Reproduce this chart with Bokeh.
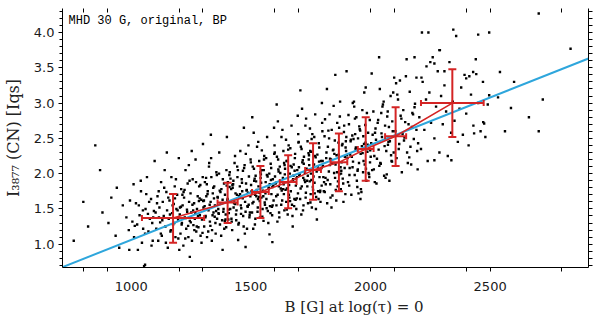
import numpy as np
from bokeh.plotting import figure
from bokeh.models import (ColumnDataSource, Range1d, LinearAxis, FixedTicker,
                          Whisker, TeeHead, Label, PrintfTickFormatter)
from bokeh.embed import file_html
from bokeh.resources import INLINE

# ---------------- data ----------------
title_text = "MHD 30 G, original, BP"
x_label = "B [G] at log(τ) = 0"
y_label = "I₃₈₇₇ (CN) [Iqs]"

x_ticks = [1000, 1500, 2000, 2500]
x_minor = [800, 900, 1200, 1300, 1600, 1700, 2000, 2100, 2400, 2500, 2800]
y_ticks = [1.0, 1.5, 2.0, 2.5, 3.0, 3.5, 4.0]

# binned means (red crosses)
bin_b = [1175, 1403, 1540, 1656, 1760, 1868, 1980, 2105, 2342]
bin_i = [1.37, 1.59, 1.74, 1.88, 2.05, 2.16, 2.35, 2.53, 3.00]
bin_b_err = [130, 42, 35, 35, 33, 35, 33, 44, 131]
bin_i_lo = [1.02, 1.30, 1.37, 1.51, 1.63, 1.75, 1.90, 2.11, 2.52]
bin_i_hi = [1.71, 1.87, 2.11, 2.26, 2.43, 2.57, 2.80, 2.94, 3.48]

# linear fit (blue)
fit_slope = 0.001345
fit_intercept = -0.284

# scatter points, grouped by field strength
b09 = [760, 820, 850, 880, 905, 917, 935, 950, 965, 980, 990, 870, 940, 995, 800]
i09 = [1.05, 1.25, 2.40, 1.45, 1.30, 1.66, 1.12, 0.95, 1.55, 1.38, 1.20, 2.05, 1.80, 1.62, 1.60]

b10 = [1005, 1012, 1020, 1028, 1035, 1041, 1050, 1054, 1060, 1066,
       1072, 1078, 1083, 1090, 1095, 1010, 1025, 1045, 1063, 1088,
       1098, 1032, 1058, 1070, 1085, 1015, 1040, 1075, 1092, 1049]
i10 = [1.32, 1.10, 1.58, 0.92, 1.41, 1.75, 1.22, 0.69, 1.50, 1.95,
       1.18, 1.36, 1.64, 1.05, 1.47, 1.85, 1.28, 1.02, 1.71, 1.30,
       2.18, 1.55, 1.15, 1.43, 0.98, 1.26, 1.90, 1.60, 1.38, 1.48]

b11 = [1102, 1105, 1110, 1113, 1118, 1121, 1125, 1128, 1132, 1136,
       1140, 1143, 1147, 1150, 1153, 1157, 1160, 1164, 1168, 1171,
       1175, 1178, 1182, 1185, 1189, 1192, 1196, 1199, 1108, 1116,
       1124, 1138, 1145, 1155, 1162, 1173, 1180, 1187, 1194, 1130,
       1149, 1166, 1183, 1115, 1197]
i11 = [1.45, 1.22, 1.68, 1.05, 1.52, 1.31, 1.88, 1.12, 1.60, 1.40,
       2.05, 1.25, 1.74, 1.48, 0.95, 1.36, 1.62, 1.18, 1.95, 1.44,
       1.28, 1.57, 1.82, 1.10, 1.50, 1.70, 1.35, 2.22, 1.58, 1.38,
       1.15, 1.80, 1.02, 1.66, 1.42, 1.55, 1.30, 1.92, 1.48, 1.34,
       2.30, 1.20, 1.65, 1.75, 1.08]

b12 = [1203, 1206, 1209, 1212, 1215, 1218, 1221, 1224, 1227, 1230,
       1233, 1236, 1239, 1242, 1245, 1248, 1251, 1254, 1257, 1260,
       1263, 1266, 1269, 1272, 1275, 1278, 1281, 1284, 1287, 1290,
       1293, 1296, 1299, 1204, 1211, 1219, 1226, 1234, 1241, 1249,
       1256, 1264, 1271, 1279, 1286, 1294, 1208, 1223, 1238, 1253,
       1268, 1283, 1298, 1214, 1229, 1244, 1259, 1274, 1289, 1201]
i12 = [1.42, 1.15, 1.78, 1.30, 1.55, 0.98, 1.66, 1.38, 2.05, 1.22,
       1.49, 1.86, 1.10, 1.60, 1.33, 1.72, 1.45, 1.05, 1.92, 1.27,
       1.58, 1.36, 2.20, 1.18, 1.50, 1.68, 1.24, 1.82, 1.41, 1.12,
       1.63, 1.35, 1.95, 1.52, 1.28, 1.74, 1.08, 1.46, 2.12, 1.31,
       1.56, 1.20, 1.88, 1.40, 1.65, 1.02, 1.53, 1.77, 1.26, 2.32,
       1.44, 1.61, 1.16, 1.70, 1.37, 1.90, 1.48, 1.25, 1.84, 0.92]

b13 = [1302, 1305, 1308, 1311, 1314, 1317, 1320, 1323, 1326, 1329,
       1332, 1335, 1338, 1341, 1344, 1347, 1350, 1353, 1356, 1359,
       1362, 1365, 1368, 1371, 1374, 1377, 1380, 1383, 1386, 1389,
       1392, 1395, 1398, 1304, 1310, 1316, 1322, 1328, 1334, 1340,
       1346, 1352, 1358, 1364, 1370, 1376, 1382, 1388, 1394, 1300,
       1307, 1319, 1331, 1343, 1355, 1367, 1379, 1391, 1313, 1337,
       1361, 1385, 1325, 1349, 1373, 1397, 1301, 1333, 1366, 1399]
i13 = [1.52, 1.25, 1.88, 1.40, 1.68, 1.10, 1.75, 1.48, 2.15, 1.32,
       1.60, 1.95, 1.20, 1.72, 1.45, 1.82, 1.55, 1.15, 2.02, 1.36,
       1.66, 1.44, 2.30, 1.28, 1.58, 1.78, 1.34, 1.92, 1.50, 1.22,
       1.70, 1.42, 2.05, 1.62, 1.38, 1.85, 1.18, 1.56, 2.22, 1.41,
       1.65, 1.30, 1.98, 1.50, 1.76, 1.12, 1.63, 1.86, 1.35, 2.42,
       1.54, 1.71, 1.26, 1.80, 1.47, 2.00, 1.58, 1.33, 1.94, 1.05,
       1.67, 1.46, 2.10, 1.39, 1.74, 1.24, 1.61, 2.55, 1.43, 1.83]

b14 = [1402, 1406, 1410, 1414, 1418, 1422, 1426, 1430, 1434, 1438,
       1442, 1446, 1450, 1454, 1458, 1462, 1466, 1470, 1474, 1478,
       1482, 1486, 1490, 1494, 1498, 1404, 1408, 1412, 1416, 1420,
       1424, 1428, 1432, 1436, 1440, 1444, 1448, 1452, 1456, 1460,
       1464, 1468, 1472, 1476, 1480, 1484, 1488, 1492, 1496, 1400,
       1403, 1411, 1419, 1427, 1435, 1443, 1451, 1459, 1467, 1475,
       1483, 1491, 1499, 1407, 1423, 1439, 1455, 1471, 1487, 1415,
       1447, 1479, 1431, 1463, 1495]
i14 = [1.62, 1.35, 1.98, 1.50, 1.78, 1.20, 1.85, 1.58, 2.25, 1.42,
       1.70, 2.05, 1.30, 1.82, 1.55, 1.92, 1.65, 1.25, 2.12, 1.46,
       1.76, 1.54, 2.40, 1.38, 1.68, 1.88, 1.44, 2.02, 1.60, 1.32,
       1.80, 1.52, 2.15, 1.72, 1.48, 1.95, 1.28, 1.66, 2.32, 1.51,
       1.75, 1.40, 2.08, 1.60, 1.86, 1.22, 1.73, 1.96, 1.45, 2.52,
       1.64, 1.81, 1.36, 1.90, 1.57, 2.10, 1.68, 1.43, 2.04, 1.15,
       1.77, 1.56, 2.20, 1.49, 1.84, 1.34, 1.71, 2.65, 1.53, 1.93,
       1.06, 2.28, 1.59, 1.87, 1.41]

b15 = [1502, 1505, 1508, 1511, 1514, 1517, 1520, 1523, 1526, 1529,
       1532, 1535, 1538, 1541, 1544, 1547, 1550, 1553, 1556, 1559,
       1562, 1565, 1568, 1571, 1574, 1577, 1580, 1583, 1586, 1589,
       1592, 1595, 1598, 1501, 1507, 1513, 1519, 1525, 1531, 1537,
       1543, 1549, 1555, 1561, 1567, 1573, 1579, 1585, 1591, 1597,
       1504, 1516, 1528, 1540, 1552, 1564, 1576, 1588, 1500, 1510,
       1522, 1534, 1546, 1558, 1570, 1582, 1594, 1506, 1530, 1554,
       1578, 1599, 1518, 1542, 1566, 1590, 1512, 1548, 1584, 1536]
i15 = [1.74, 1.45, 2.10, 1.60, 1.90, 1.28, 1.97, 1.68, 2.38, 1.52,
       1.82, 2.18, 1.38, 1.94, 1.66, 2.05, 1.76, 1.33, 2.25, 1.56,
       1.88, 1.64, 2.52, 1.47, 1.79, 2.00, 1.54, 2.14, 1.71, 1.41,
       1.92, 1.62, 2.28, 1.84, 1.58, 2.07, 1.36, 1.77, 2.45, 1.61,
       1.87, 1.50, 2.20, 1.72, 1.98, 1.30, 1.85, 2.08, 1.55, 2.65,
       1.75, 1.93, 1.46, 2.02, 1.68, 2.22, 1.80, 1.53, 2.16, 1.22,
       1.89, 1.67, 2.33, 1.59, 1.96, 1.44, 1.83, 2.80, 1.64, 2.05,
       1.14, 2.40, 1.70, 1.99, 1.51, 1.81, 2.58, 1.39, 1.91, 1.73]

b16 = [1603, 1607, 1609, 1612, 1616, 1619, 1621, 1625, 1628, 1631,
       1634, 1636, 1640, 1643, 1645, 1649, 1652, 1654, 1658, 1661,
       1663, 1667, 1670, 1672, 1676, 1679, 1682, 1685, 1688, 1690,
       1694, 1697, 1699, 1601, 1606, 1614, 1618, 1624, 1632, 1638,
       1642, 1648, 1656, 1660, 1666, 1674, 1678, 1684, 1692, 1696,
       1605, 1615, 1627, 1639, 1651, 1665, 1677, 1687, 1600, 1611,
       1623, 1635, 1647, 1659, 1671, 1681, 1693, 1608, 1629, 1653,
       1675, 1698, 1617, 1641, 1664, 1689, 1613, 1650, 1683, 1637]
i16 = [1.86, 1.55, 2.24, 1.70, 2.03, 1.38, 2.10, 1.79, 2.52, 1.62,
       1.94, 2.32, 1.48, 2.07, 1.77, 2.18, 1.88, 1.42, 2.40, 1.66,
       2.00, 1.75, 2.68, 1.56, 1.91, 2.13, 1.64, 2.28, 1.83, 1.50,
       2.05, 1.72, 2.44, 1.96, 1.68, 2.20, 1.45, 1.89, 2.62, 1.71,
       1.99, 1.60, 2.34, 1.84, 2.11, 1.40, 1.97, 2.22, 1.65, 2.82,
       1.87, 2.06, 1.56, 2.15, 1.79, 2.36, 1.92, 1.63, 2.30, 1.32,
       2.01, 1.78, 2.48, 1.70, 2.09, 1.54, 1.95, 2.98, 1.76, 2.18,
       1.25, 2.56, 1.82, 2.12, 1.61, 1.93, 2.74, 1.49, 2.04, 1.85]

b17 = [1702, 1706, 1709, 1713, 1715, 1718, 1722, 1724, 1728, 1730,
       1733, 1737, 1739, 1742, 1746, 1748, 1751, 1755, 1757, 1760,
       1764, 1766, 1769, 1773, 1775, 1778, 1781, 1784, 1787, 1791,
       1793, 1796, 1799, 1701, 1708, 1712, 1720, 1726, 1731, 1736,
       1744, 1750, 1754, 1762, 1768, 1772, 1780, 1786, 1790, 1797,
       1704, 1717, 1729, 1741, 1753, 1765, 1777, 1789, 1700, 1711,
       1721, 1735, 1747, 1759, 1771, 1783, 1795, 1707, 1727, 1752,
       1776, 1798, 1719, 1743, 1767, 1788, 1714, 1749, 1785, 1738]
i17 = [1.98, 1.64, 2.38, 1.82, 2.16, 1.48, 2.24, 1.91, 2.68, 1.73,
       2.07, 2.46, 1.58, 2.20, 1.89, 2.32, 2.00, 1.52, 2.56, 1.77,
       2.13, 1.87, 2.84, 1.67, 2.03, 2.27, 1.75, 2.43, 1.95, 1.60,
       2.18, 1.83, 2.60, 2.09, 1.79, 2.35, 1.55, 2.01, 2.78, 1.82,
       2.12, 1.71, 2.49, 1.96, 2.25, 1.50, 2.10, 2.37, 1.76, 3.00,
       1.99, 2.19, 1.66, 2.29, 1.91, 2.52, 2.05, 1.74, 2.45, 1.42,
       2.14, 1.90, 2.64, 1.81, 2.23, 1.64, 2.08, 3.18, 1.88, 2.31,
       1.35, 2.72, 1.94, 2.26, 1.72, 2.06, 2.92, 1.59, 2.17, 1.97]

b18 = [1801, 1805, 1808, 1812, 1816, 1819, 1822, 1826, 1829, 1832,
       1835, 1838, 1841, 1845, 1848, 1851, 1854, 1857, 1861, 1864,
       1867, 1870, 1873, 1876, 1879, 1883, 1886, 1889, 1892, 1895,
       1898, 1803, 1810, 1815, 1821, 1827, 1833, 1840, 1846, 1852,
       1858, 1863, 1869, 1875, 1881, 1887, 1893, 1899, 1806, 1818,
       1830, 1843, 1855, 1866, 1878, 1890, 1800, 1813, 1824, 1837,
       1849, 1860, 1872, 1884, 1896, 1809, 1831, 1853, 1877, 1897]
i18 = [2.11, 1.75, 2.53, 1.94, 2.30, 1.58, 2.38, 2.03, 2.84, 1.85,
       2.20, 2.62, 1.69, 2.34, 2.01, 2.47, 2.13, 1.62, 2.72, 1.89,
       2.27, 1.99, 3.02, 1.78, 2.16, 2.42, 1.86, 2.59, 2.08, 1.71,
       2.32, 1.95, 2.77, 2.22, 1.91, 2.50, 1.66, 2.14, 2.96, 1.94,
       2.26, 1.82, 2.65, 2.09, 2.40, 1.60, 2.24, 2.52, 1.88, 3.20,
       2.12, 2.33, 1.77, 2.44, 2.04, 2.68, 2.18, 1.85, 2.61, 1.52,
       2.28, 2.02, 2.81, 1.93, 2.37, 1.74, 2.21, 3.40, 2.00, 2.46]

b19 = [1902, 1906, 1910, 1913, 1917, 1920, 1924, 1927, 1931, 1934,
       1938, 1941, 1945, 1948, 1952, 1955, 1959, 1962, 1966, 1969,
       1973, 1976, 1980, 1983, 1987, 1990, 1994, 1997, 1904, 1911,
       1918, 1925, 1932, 1939, 1946, 1953, 1960, 1967, 1974, 1981,
       1988, 1995, 1908, 1922, 1936, 1950, 1964, 1978, 1992, 1900,
       1915, 1929, 1943, 1957, 1971, 1985, 1999, 1912, 1935, 1958,
       1979, 1998, 1926, 1947, 1970]
i19 = [2.26, 1.88, 2.70, 2.08, 2.46, 1.70, 2.54, 2.17, 3.02, 1.98,
       2.35, 2.80, 1.81, 2.50, 2.15, 2.63, 2.28, 1.74, 2.90, 2.02,
       2.42, 2.13, 3.22, 1.90, 2.31, 2.58, 1.99, 2.76, 2.22, 1.83,
       2.48, 2.09, 2.95, 2.37, 2.04, 2.67, 1.78, 2.29, 3.15, 2.07,
       2.41, 1.95, 2.83, 2.24, 2.56, 1.72, 2.39, 2.69, 2.01, 3.45,
       2.27, 2.49, 1.90, 2.61, 2.18, 2.86, 2.33, 1.98, 2.78, 1.64,
       2.44, 2.16, 3.00, 2.06, 2.53]

b20 = [2003, 2007, 2012, 2016, 2021, 2025, 2030, 2034, 2039, 2043,
       2048, 2052, 2057, 2061, 2066, 2070, 2075, 2079, 2084, 2088,
       2093, 2097, 2005, 2014, 2023, 2032, 2041, 2050, 2059, 2068,
       2077, 2086, 2095, 2009, 2027, 2045, 2063, 2081, 2099, 2001,
       2019, 2037, 2055, 2073, 2091, 2018, 2046, 2072, 2090, 2036]
i20 = [2.43, 2.05, 2.88, 2.25, 2.64, 1.86, 2.72, 2.34, 3.20, 2.14,
       2.52, 2.98, 1.97, 2.68, 2.32, 2.81, 2.45, 1.90, 3.10, 2.18,
       2.60, 2.30, 3.42, 2.06, 2.48, 2.76, 2.15, 2.95, 2.39, 1.99,
       2.66, 2.26, 3.15, 2.55, 2.21, 2.86, 1.94, 2.46, 3.36, 2.24,
       2.58, 2.11, 3.02, 2.41, 2.74, 1.88, 2.57, 2.88, 2.17, 3.65]

b21 = [2104, 2109, 2115, 2120, 2126, 2131, 2137, 2142, 2148, 2153,
       2159, 2164, 2170, 2175, 2181, 2186, 2192, 2197, 2107, 2118,
       2129, 2140, 2151, 2162, 2173, 2184, 2195, 2112, 2134, 2156,
       2178, 2199, 2123, 2145, 2167]
i21 = [2.60, 2.22, 3.05, 2.42, 2.82, 2.02, 2.90, 2.51, 3.38, 2.30,
       2.70, 3.16, 2.13, 2.86, 2.49, 2.99, 2.62, 2.06, 3.28, 2.35,
       2.78, 2.47, 3.62, 2.23, 2.66, 2.94, 2.32, 3.12, 2.56, 2.15,
       2.84, 2.43, 3.32, 2.73, 2.38]

b22 = [2204, 2211, 2218, 2225, 2232, 2239, 2246, 2253, 2260, 2267,
       2274, 2281, 2288, 2295, 2302, 2309, 2316, 2323, 2330, 2337,
       2344, 2351, 2358, 2365, 2372, 2379, 2386, 2393, 2400, 2410,
       2420, 2430, 2440, 2450, 2460, 2470, 2480, 2490, 2215, 2290]
i22 = [2.80, 2.35, 3.30, 2.62, 3.05, 2.18, 3.15, 2.72, 3.65, 2.50,
       2.95, 3.45, 2.30, 3.10, 2.70, 3.25, 2.88, 2.25, 3.58, 2.58,
       3.02, 2.75, 3.95, 2.45, 2.92, 3.22, 2.55, 3.40, 2.85, 2.40,
       3.12, 2.68, 3.62, 3.00, 2.60, 3.30, 2.52, 2.98, 4.00, 3.75]

b_out = [2703, 2242, 2346, 2450, 2496, 2288, 2836, 2184, 2250, 2267,
         2541, 2429, 2413, 2442, 2234, 2192, 2213, 2309, 2400, 2662,
         2703, 2562, 2475, 2433, 2587, 2496, 2533, 2471, 2267, 2338,
         1382, 1478, 1245, 1058, 992, 1590, 2600, 2720]
i_out = [4.27, 4.00, 4.04, 3.97, 4.00, 3.75, 3.77, 3.65, 3.58, 3.56,
         3.44, 3.44, 3.38, 3.41, 3.52, 3.36, 3.36, 3.45, 3.35, 2.80,
         2.60, 2.60, 2.71, 2.57, 2.93, 3.11, 3.08, 2.73, 2.19, 2.19,
         0.92, 0.96, 0.82, 0.71, 0.92, 1.03, 3.30, 3.05]

# ---------------- assemble ----------------
groups = [(b09, i09), (b10, i10), (b11, i11), (b12, i12), (b13, i13),
          (b14, i14), (b15, i15), (b16, i16), (b17, i17), (b18, i18),
          (b19, i19), (b20, i20), (b21, i21), (b22, i22), (b_out, i_out)]
sx, sy = [], []
for gb, gi in groups:
    n = min(len(gb), len(gi))
    sx.extend(gb[:n])
    sy.extend(gi[:n])

X0, X1 = 713, 2911
Y0, Y1 = 0.67, 4.34

RED = "#d42424"
BLUE = "#2ea6dc"

p = figure(width=600, height=318, output_backend="svg", toolbar_location=None,
           x_range=Range1d(X0, X1), y_range=Range1d(Y0, Y1),
           min_border_left=59, min_border_right=12, min_border_top=8,
           min_border_bottom=51)
p.grid.visible = False
p.outline_line_color = None
p.background_fill_color = "white"
p.border_fill_color = "white"

TICK_FONT = "DejaVu Sans"

xa = p.xaxis[0]
xa.ticker = FixedTicker(ticks=x_ticks, minor_ticks=x_minor)
xa.major_tick_line_color = None
xa.major_tick_out = 3
xa.major_tick_in = 0
xa.minor_tick_out = 4
xa.minor_tick_in = 0
xa.minor_tick_line_color = "black"
xa.major_label_standoff = 10
xa.major_label_text_font = TICK_FONT
xa.major_label_text_font_size = "13px"
xa.major_label_text_color = "#1a1a1a"
xa.axis_line_color = "black"
# leading no-break spaces shift the centred label right, as in the original
xa.axis_label = "\u00a0" * 12 + x_label
xa.axis_label_text_font = "DejaVu Serif"
xa.axis_label_text_font_style = "normal"
xa.axis_label_text_font_size = "15px"
xa.axis_label_standoff = 4
xa.axis_label_text_color = "#222222"

ya = p.yaxis[0]
y_minor = [round(v, 2) for v in np.arange(0.7, 4.31, 0.1)]
ya.ticker = FixedTicker(ticks=y_ticks, minor_ticks=y_minor)
ya.formatter = PrintfTickFormatter(format="%.1f")
ya.major_tick_out = 4
ya.major_tick_in = 0
ya.minor_tick_out = 3
ya.minor_tick_in = 0
ya.minor_tick_line_color = "black"
ya.major_label_standoff = 4
ya.major_label_text_font = TICK_FONT
ya.major_label_text_font_size = "13px"
ya.major_label_text_color = "#1a1a1a"
ya.axis_line_color = "black"
ya.axis_label = y_label
ya.axis_label_text_font = "DejaVu Serif"
ya.axis_label_text_font_style = "normal"
ya.axis_label_text_font_size = "16px"
ya.axis_label_standoff = 8
ya.axis_label_text_color = "#222222"

ra = LinearAxis(ticker=FixedTicker(ticks=[], minor_ticks=y_minor),
                major_label_text_font_size="0px", major_label_standoff=0,
                major_tick_out=0, major_tick_in=0, minor_tick_out=4, minor_tick_in=0,
                axis_line_color="black")
p.add_layout(ra, "right")

ta = LinearAxis(ticker=FixedTicker(ticks=[], minor_ticks=x_minor),
                major_label_text_font_size="0px", major_label_standoff=0,
                major_tick_out=0, major_tick_in=0, minor_tick_out=0, minor_tick_in=4,
                axis_line_color=None)
p.add_layout(ta, "above")

# scatter
p.scatter(sx, sy, marker="square", size=2.4, color="black", line_width=0)

# linear fit
fx = [X0, X1]
fy = [fit_intercept + fit_slope * v for v in fx]
p.line(fx, fy, color=BLUE, line_width=2)

# binned means
src = ColumnDataSource(dict(
    b=bin_b, i=bin_i,
    blo=[b - e for b, e in zip(bin_b, bin_b_err)],
    bhi=[b + e for b, e in zip(bin_b, bin_b_err)],
    ilo=bin_i_lo, ihi=bin_i_hi))
p.line("b", "i", source=src, color=RED, line_width=1.6)

wv = Whisker(source=src, base="b", lower="ilo", upper="ihi", dimension="height",
             line_color=RED, line_width=2, level="annotation",
             upper_head=TeeHead(size=8, line_color=RED, line_width=2),
             lower_head=TeeHead(size=8, line_color=RED, line_width=2))
wh = Whisker(source=src, base="i", lower="blo", upper="bhi", dimension="width",
             line_color=RED, line_width=2, level="annotation",
             upper_head=TeeHead(size=6, line_color=RED, line_width=2),
             lower_head=TeeHead(size=6, line_color=RED, line_width=2))
p.add_layout(wv)
p.add_layout(wh)

# title inside plot
p.add_layout(Label(x=738, y=4.165, text=title_text, text_font="Liberation Mono",
                   text_font_size="12px", text_baseline="middle", text_align="left",
                   text_color="black"))

open("out.html", "w").write(file_html(p, INLINE))
